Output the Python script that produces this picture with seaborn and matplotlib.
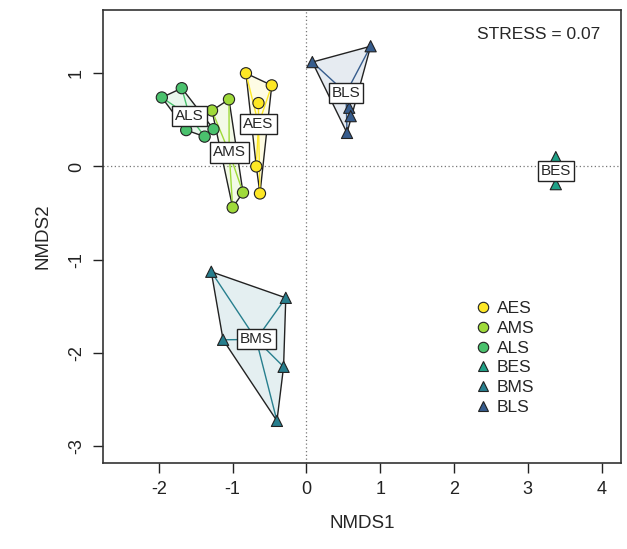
import numpy as np
import pandas as pd
import matplotlib
matplotlib.use("Agg")
import matplotlib.pyplot as plt
from matplotlib.patches import Polygon
import seaborn as sns

# NMDS site scores per group
groups = ["AES", "AMS", "ALS", "BES", "BMS", "BLS"]
aes_x = [-0.82, -0.47, -0.65, -0.68, -0.63]
aes_y = [1.00, 0.87, 0.68, 0.00, -0.29]
ams_x = [-1.28, -1.05, -0.86, -1.00]
ams_y = [0.60, 0.72, -0.28, -0.44]
als_x = [-1.96, -1.69, -1.63, -1.38, -1.26]
als_y = [0.74, 0.84, 0.39, 0.32, 0.40]
bes_x = [3.38, 3.38]
bes_y = [0.10, -0.19]
bms_x = [-1.29, -0.28, -1.13, -0.31, -0.40]
bms_y = [-1.13, -1.41, -1.86, -2.15, -2.73]
bls_x = [0.08, 0.87, 0.58, 0.60, 0.55]
bls_y = [1.12, 1.29, 0.63, 0.54, 0.36]
stress = 0.07

xs = [aes_x, ams_x, als_x, bes_x, bms_x, bls_x]
ys = [aes_y, ams_y, als_y, bes_y, bms_y, bls_y]

df = pd.DataFrame({
    "NMDS1": np.concatenate(xs),
    "NMDS2": np.concatenate(ys),
    "group": np.repeat(groups, [len(v) for v in xs]),
})

colors = ["#FDE725", "#9FDA3A", "#4AC16D", "#1FA187", "#277F8E", "#365C8D"]
palette = dict(zip(groups, colors))
markers = {"AES": "o", "AMS": "o", "ALS": "o", "BES": "^", "BMS": "^", "BLS": "^"}


def convex_hull(pts):
    pts = sorted(set(map(tuple, pts)))
    if len(pts) < 3:
        return pts

    def cross(o, a, b):
        return (a[0] - o[0]) * (b[1] - o[1]) - (a[1] - o[1]) * (b[0] - o[0])

    lower, upper = [], []
    for p in pts:
        while len(lower) >= 2 and cross(lower[-2], lower[-1], p) <= 0:
            lower.pop()
        lower.append(p)
    for p in reversed(pts):
        while len(upper) >= 2 and cross(upper[-2], upper[-1], p) <= 0:
            upper.pop()
        upper.append(p)
    return lower[:-1] + upper[:-1]


sns.set_style("white")
plt.rcParams["font.family"] = ["Liberation Sans", "DejaVu Sans"]

fig = plt.figure(figsize=(6.27, 5.49), dpi=100)
ax = fig.add_axes([0.164, 0.157, 0.826, 0.825])

ax.axhline(0, color="#777777", lw=0.9, ls=(0, (1, 2)), zorder=0)
ax.axvline(0, color="#777777", lw=0.9, ls=(0, (1, 2)), zorder=0)

# hulls and spiders
for g, gx, gy in zip(groups, xs, ys):
    pts = np.column_stack([gx, gy])
    cx, cy = pts.mean(axis=0)
    hull = convex_hull(pts)
    if len(hull) >= 3:
        ax.add_patch(Polygon(hull, closed=True, facecolor=palette[g], alpha=0.12,
                             edgecolor="none", zorder=1))
        ax.add_patch(Polygon(hull, closed=True, facecolor="none",
                             edgecolor="#222222", lw=1.0, zorder=2))
    for px, py in pts:
        ax.plot([cx, px], [cy, py], color=palette[g], lw=1.0, zorder=2)

sns.scatterplot(data=df, x="NMDS1", y="NMDS2", hue="group", style="group",
                palette=palette, markers=markers, hue_order=groups, style_order=groups,
                s=65, edgecolor="#222222", linewidth=0.8, ax=ax, zorder=3)

# group labels at centroids
for g, gx, gy in zip(groups, xs, ys):
    ax.text(np.mean(gx), np.mean(gy), g, ha="center", va="center", fontsize=11,
            zorder=5,
            bbox=dict(boxstyle="square,pad=0.2", facecolor="white",
                      edgecolor="#222222", lw=1.0))

ax.text(0.96, 0.945, f"STRESS = {stress:.2f}", transform=ax.transAxes,
        ha="right", va="center", fontsize=12.5)

ax.set_xlim(-2.76, 4.26)
ax.set_ylim(-3.18, 1.68)
ax.set_xticks([-2, -1, 0, 1, 2, 3, 4])
ax.set_yticks([-3, -2, -1, 0, 1])
ax.set_xticklabels(["-2", "-1", "0", "1", "2", "3", "4"])
ax.set_yticklabels(["-3", "-2", "-1", "0", "1"], rotation=90, va="center")
ax.tick_params(direction="out", length=7, width=1, colors="#222222",
               labelsize=13, pad=6, bottom=True, left=True)
ax.set_xlabel("NMDS1", fontsize=13.5, labelpad=12)
ax.set_ylabel("NMDS2", fontsize=13.5, labelpad=12)
for sp in ax.spines.values():
    sp.set_color("#333333")
    sp.set_linewidth(1.2)

leg = ax.legend(loc="upper left", bbox_to_anchor=(0.714, 0.357), frameon=False,
                fontsize=12.5, handletextpad=0.2, labelspacing=0.26,
                handlelength=1.2, borderaxespad=0, borderpad=0)
for h in leg.legend_handles:
    h.set_markersize(7.5)
    h.set_markeredgecolor("#222222")

fig.savefig("out.png", dpi=100)
